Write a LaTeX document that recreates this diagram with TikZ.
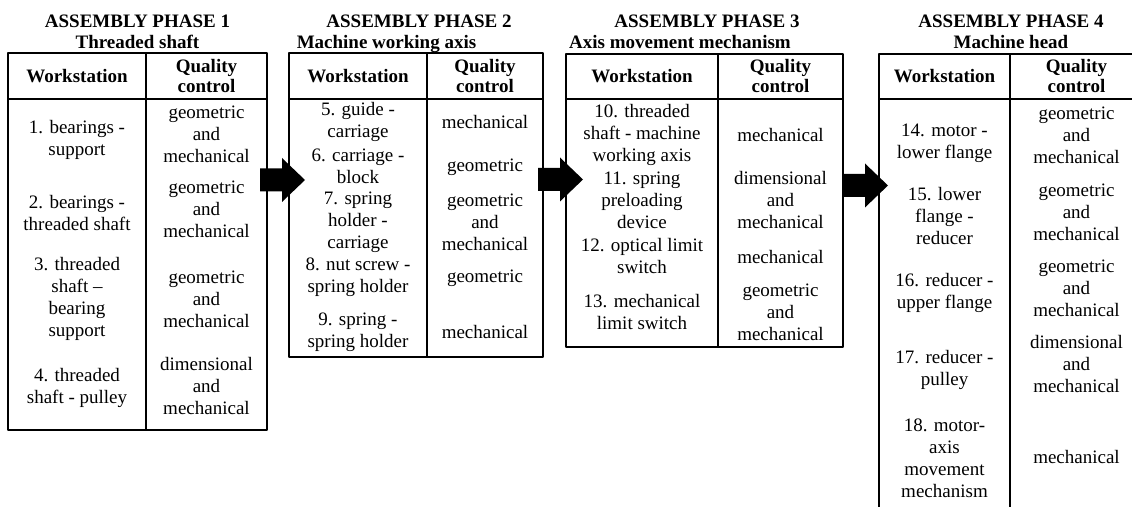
\documentclass[tikz,border=0pt]{standalone}
\usepackage{fontspec}
\setmainfont{Liberation Serif}
\begin{document}
\begin{tikzpicture}[x=0.5pt,y=-0.5pt,line join=round,font=\fontsize{9.5}{11}\selectfont]
	\tikzset{ttl/.style={anchor=north,inner sep=0pt,align=center,font=\fontsize{9.5}{10.5}\selectfont\bfseries},
		hd/.style={inner sep=0pt,align=center,font=\fontsize{9.5}{10}\selectfont\bfseries},
		c/.style={inner sep=0pt,align=center},
		frm/.style={line width=1pt}}
	\useasboundingbox (0,0) rectangle (1132,507);
	\clip (0,0) rectangle (1132,507);
	
	\path(137.5,14.5)node[ttl](p1){ASSEMBLY PHASE 1\\Threaded shaft}
	(419,14.5)node[ttl](p2){ASSEMBLY PHASE 2\\Machine working axis\hspace*{32.5pt}}
	(707,14.5)node[ttl](p3){ASSEMBLY PHASE 3\\Axis movement mechanism\hspace*{27pt}}
	(1011,14.5)node[ttl](p4){ASSEMBLY PHASE 4\\Machine head};
	
	\foreach \n/\xa/\xb/\xc/\yt/\yb in {1/8/146/267/53/430,2/289/427/543/53/357,3/566/718/843/54/347,4/879/1010/1143/54/530}{
		\draw[frm] (\xa,\yt) rectangle (\xc,\yb) (\xa,99)--(\xc,99) (\xb,\yt)--(\xb,\yb);
		\path({(\xa+\xb)/2},{(\yt+99)/2})node[hd](w\n){Workstation}
		({(\xb+\xc)/2},{(\yt+99)/2})node[hd](k\n){Quality\\control};	}
	
	\foreach \n/\x/\y/\txt in {1/77/140/{1. bearings -\\support},2/77/213/{2. bearings -\\threaded shaft},
		3/77/299/{3. threaded\\shaft –\\bearing\\support},4/77/388/{4. threaded\\shaft - pulley},
		5/358/122/{5. guide -\\carriage},6/358/166/{6. carriage -\\block},7/358/222/{7. spring\\holder -\\carriage},
		8/358/277/{8. nut screw -\\spring holder},9/358/332/{9. spring -\\spring holder},
		10/642/135/{10. threaded\\shaft - machine\\working axis},11/642/200/{11. spring\\preloading\\device},
		12/642/256/{12. optical limit\\switch},13/642/312/{13. mechanical\\limit switch},
		14/944.5/143/{14. motor -\\lower flange},15/944.5/216/{15. lower\\flange -\\reducer},
		16/944.5/293/{16. reducer -\\upper flange},17/944.5/370/{17. reducer -\\pulley},
		18/944.5/458/{18. motor-\\axis\\movement\\mechanism}}{
		\node[c](s\n) at (\x,\y){\txt};	}
	
	\foreach \n/\x/\y/\txt in {1/206.5/134/{geometric\\and\\mechanical},2/206.5/209/{geometric\\and\\mechanical},
		3/206.5/299/{geometric\\and\\mechanical},4/206.5/386/{dimensional\\and\\mechanical},
		5/485/122/{mechanical},6/485/167/{geometric},7/485/222/{geometric\\and\\mechanical},
		8/485/278/{geometric},9/485/332/{mechanical},
		10/780.5/135/{mechanical},11/780.5/200/{dimensional\\and\\mechanical},
		12/780.5/257/{mechanical},13/780.5/312/{geometric\\and\\mechanical},
		14/1076.5/135/{geometric\\and\\mechanical},15/1076.5/212/{geometric\\and\\mechanical},
		16/1076.5/288/{geometric\\and\\mechanical},17/1076.5/364/{dimensional\\and\\mechanical},
		18/1076.5/457/{mechanical}}{
		\node[c](q\n) at (\x,\y){\txt};	}
	
	\foreach \n/\x/\y in {1/260/180,2/538/179.5,3/843/185.5}{
		\coordinate(a\n) at (\x,\y);
		\fill (a\n)++(0,-11.5)--++(22,0)--++(0,-10.5)--++(23,22)--++(-23,22)--++(0,-10.5)--++(-22,0)--cycle;	}
\end{tikzpicture}
\end{document}
